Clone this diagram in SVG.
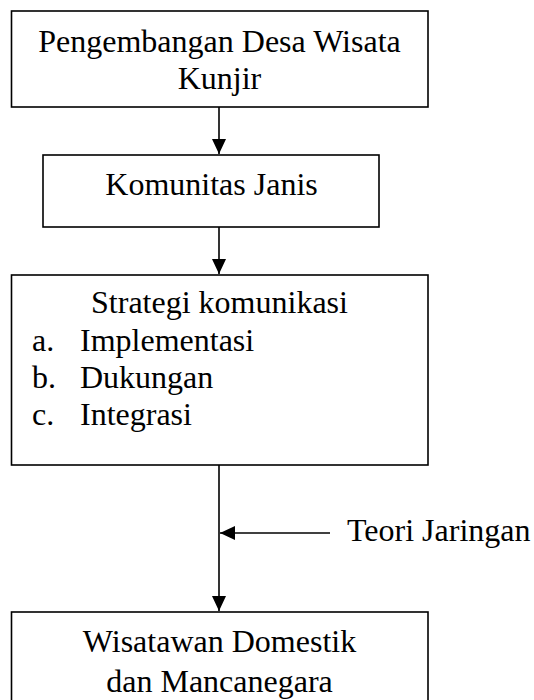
<svg xmlns="http://www.w3.org/2000/svg" width="534" height="700" viewBox="0 0 534 700">
<style>
.box{fill:#fff;stroke:#000;stroke-width:1.6}
.t{font-family:"Liberation Serif","Times New Roman",serif;font-size:32px;fill:#000}
.c{text-anchor:middle}
.ln{stroke:#000;stroke-width:1.6;fill:none}
</style>
<defs>
<marker id="ah" markerUnits="userSpaceOnUse" markerWidth="16" markerHeight="16" viewBox="0 0 16 16" refX="15" refY="8" orient="auto">
<path d="M0,1 L15,8 L0,15 Z" fill="#000"/>
</marker>
</defs>
<g id="connectors">
<line class="ln" x1="219" y1="107" x2="219" y2="154" marker-end="url(#ah)"/>
<line class="ln" x1="219" y1="227" x2="219" y2="274" marker-end="url(#ah)"/>
<line class="ln" x1="219" y1="465" x2="219" y2="611" marker-end="url(#ah)"/>
<line class="ln" x1="330" y1="533" x2="220" y2="533" marker-end="url(#ah)"/>
</g>
<g id="node1">
<rect class="box" x="11.5" y="11" width="416.5" height="96"/>
<text class="t c" x="219.5" y="52">Pengembangan Desa Wisata</text>
<text class="t c" x="219.5" y="89">Kunjir</text>
</g>
<g id="node2">
<rect class="box" x="43" y="155" width="336" height="72"/>
<text class="t c" x="211.5" y="195">Komunitas Janis</text>
</g>
<g id="node3">
<rect class="box" x="11.5" y="275" width="416.5" height="190"/>
<text class="t c" x="219.5" y="313">Strategi komunikasi</text>
<text class="t" x="32" y="351">a.</text>
<text class="t" x="80" y="351">Implementasi</text>
<text class="t" x="32" y="388">b.</text>
<text class="t" x="80" y="388">Dukungan</text>
<text class="t" x="32" y="425">c.</text>
<text class="t" x="80" y="425">Integrasi</text>
</g>
<g id="label">
<text class="t" x="347" y="541">Teori Jaringan</text>
</g>
<g id="node4">
<rect class="box" x="11.5" y="612" width="416.5" height="100"/>
<text class="t c" x="219.5" y="652">Wisatawan Domestik</text>
<text class="t c" x="219.5" y="692">dan Mancanegara</text>
</g>
</svg>
